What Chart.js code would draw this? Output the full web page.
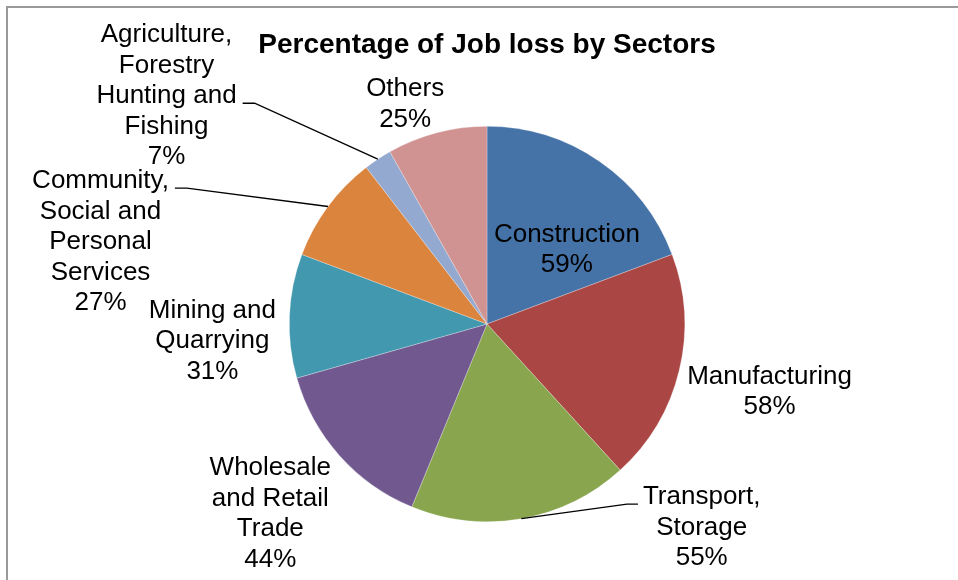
<!DOCTYPE html>
<html>
<head>
<meta charset="utf-8">
<script src="https://cdn.jsdelivr.net/npm/chart.js@4.4.1/dist/chart.umd.min.js"></script>
<style>
    html, body { margin: 0; padding: 0; background: #fff; }
    #wrap { width: 958px; height: 580px; position: relative; }
</style>
</head>
<body>
<div id="wrap"><canvas id="chartJobLoss"></canvas></div>
<script>
// Data
const sectors = [
    'Construction',
    'Manufacturing',
    'Transport, Storage',
    'Wholesale and Retail Trade',
    'Mining and Quarrying',
    'Community, Social and Personal Services',
    'Agriculture, Forestry Hunting and Fishing',
    'Others'
];
const jobLoss = [59, 58, 55, 44, 31, 27, 7, 25];

// How each label wraps, as in the original
const labelLines = [
    ['Construction'],
    ['Manufacturing'],
    ['Transport,', 'Storage'],
    ['Wholesale', 'and Retail', 'Trade'],
    ['Mining and', 'Quarrying'],
    ['Community,', 'Social and', 'Personal', 'Services'],
    ['Agriculture,', 'Forestry', 'Hunting and', 'Fishing'],
    ['Others']
];

const sliceColors = ['#4572a7', '#aa4643', '#89a54e', '#71588f', '#4198af', '#db843d', '#93a9cf', '#d19392'];

// Label block centres, in units of the pie radius from the pie centre
const labelOffsets = [
    [0.404, -0.374],
    [1.429, 0.343],
    [1.086, 1.030],
    [-1.096, 0.960],
    [-1.389, 0.086],
    [-1.955, -0.414],
    [-1.621, -1.152],
    [-0.414, -1.111]
];
// Leader lines: which text line they start from and on which side
const leaders = {
    2: { line: 0, side: 'left' },
    5: { line: 0, side: 'right' },
    6: { line: 2, side: 'right' }
};

const labelFont = "26px 'Liberation Sans', Arial, sans-serif";
const lineStep = 30.5;

const frame = {
    id: 'frame',
    beforeDraw(chart) {
        const ctx = chart.ctx;
        ctx.save();
        ctx.fillStyle = '#fff';
        ctx.fillRect(0, 0, chart.width, chart.height);
        ctx.strokeStyle = '#9a9a9a';
        ctx.lineWidth = 2;
        ctx.beginPath();
        ctx.moveTo(7, chart.height + 5);
        ctx.lineTo(7, 7);
        ctx.lineTo(chart.width + 5, 7);
        ctx.stroke();
        ctx.restore();
    }
};

const sliceLabels = {
    id: 'sliceLabels',
    afterDatasetsDraw(chart) {
        const ctx = chart.ctx;
        const arcs = chart.getDatasetMeta(0).data;
        ctx.save();
        ctx.font = labelFont;
        ctx.fillStyle = '#000';
        ctx.textAlign = 'center';
        ctx.textBaseline = 'middle';
        arcs.forEach((arc, i) => {
            const { x, y, outerRadius, startAngle, endAngle } = arc.getProps(['x', 'y', 'outerRadius', 'startAngle', 'endAngle'], true);
            const lines = labelLines[i].concat([jobLoss[i] + '%']);
            const cx = x + labelOffsets[i][0] * outerRadius;
            const cy = y + labelOffsets[i][1] * outerRadius;
            const top = cy - (lines.length - 1) * lineStep / 2;
            lines.forEach((t, k) => ctx.fillText(t, cx, top + k * lineStep));

            const ld = leaders[i];
            if (ld) {
                const w = ctx.measureText(lines[ld.line]).width;
                const ly = top + ld.line * lineStep + 7;
                const sx = ld.side === 'right' ? cx + w / 2 + 6 : cx - w / 2 - 5;
                const ex = ld.side === 'right' ? sx + 12 : sx - 11;
                const mid = (startAngle + endAngle) / 2;
                ctx.beginPath();
                ctx.strokeStyle = '#000';
                ctx.lineWidth = 1.3;
                ctx.moveTo(sx, ly);
                ctx.lineTo(ex, ly);
                ctx.lineTo(x + Math.cos(mid) * outerRadius, y + Math.sin(mid) * outerRadius);
                ctx.stroke();
            }
        });
        ctx.restore();
    }
};

document.addEventListener('DOMContentLoaded', function() {
    const ctx = document.getElementById('chartJobLoss').getContext('2d');
    new Chart(ctx, {
        type: 'pie',
        data: {
            labels: sectors,
            datasets: [{
                data: jobLoss,
                backgroundColor: sliceColors,
                borderColor: 'rgba(255, 255, 255, 0.45)',
                borderWidth: 0.6
            }]
        },
        options: {
            responsive: true,
            maintainAspectRatio: false,
            animation: false,
            layout: { padding: { left: 16, right: 0, top: 0, bottom: 58 } },
            plugins: {
                legend: { display: false },
                tooltip: { enabled: false },
                title: {
                    display: true,
                    text: 'Percentage of Job loss by Sectors',
                    color: '#000',
                    font: { family: "'Liberation Sans', Arial, sans-serif", size: 28, weight: 'bold', lineHeight: 1.2 },
                    padding: { top: 28, bottom: 64.4 }
                }
            }
        },
        plugins: [frame, sliceLabels]
    });
});
</script>
</body>
</html>
